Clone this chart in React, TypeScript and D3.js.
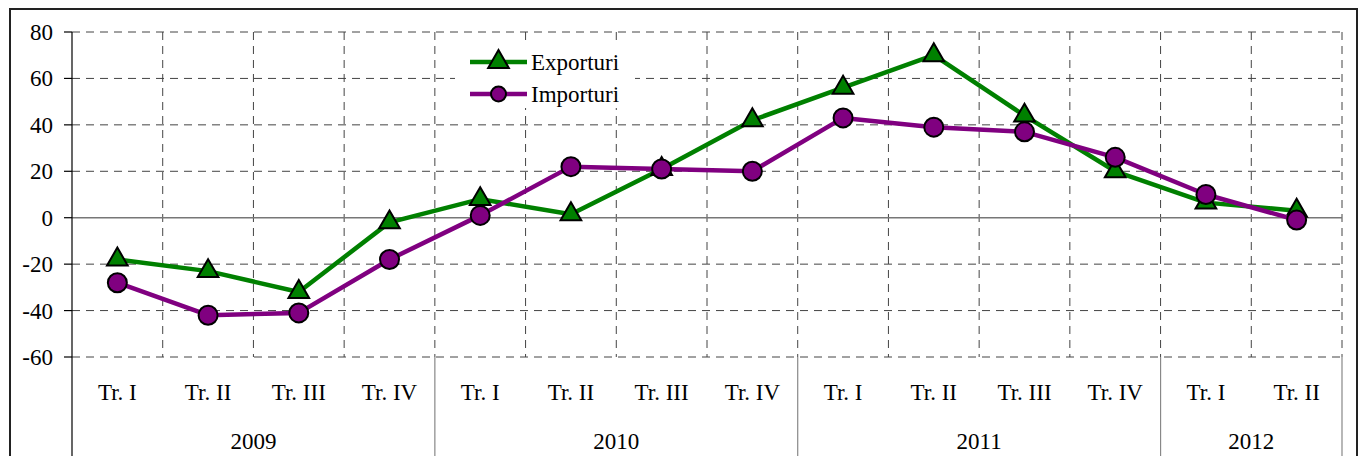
import * as React from 'react';
import * as d3 from 'd3';

const years = ['2009', '2010', '2011', '2012'];
const quarters = ['Tr. I', 'Tr. II', 'Tr. III', 'Tr. IV', 'Tr. I', 'Tr. II', 'Tr. III', 'Tr. IV', 'Tr. I', 'Tr. II', 'Tr. III', 'Tr. IV', 'Tr. I', 'Tr. II'];
const yearSpans = [4, 4, 4, 2];
const exporturi = [-18, -23, -32, -2, 8, 1.5, 21, 42, 56, 70, 44, 20, 6.5, 3];
const importuri = [-28, -42, -41, -18, 1, 22, 21, 20, 43, 39, 37, 26, 10, -1];
const yTicks = [80, 60, 40, 20, 0, -20, -40, -60];

const W = 1365;
const H = 456;
const left = 72;
const right = 1342;
const top = 32;
const bottom = 357;
const font = '"Liberation Serif", "Times New Roman", serif';
const fs = 23;

function translate(x: number, y: number) {
  return `translate(${x}, ${y})`;
}

export default function App() {
  const idx = quarters.map((_, i) => i);
  const x = d3.scaleBand<number>().domain(idx).range([left, right]).padding(0);
  const y = d3.scaleLinear().domain([-60, 80]).range([bottom, top]);
  const cx = (i: number) => x(i)! + x.bandwidth() / 2;

  const line = d3.line<number>().x((_, i) => cx(i)).y(d => y(d));
  const tri = d3.symbol().type(d3.symbolTriangle).size(185)()!;

  // year boundaries
  let acc = 0;
  const bounds = [0, ...yearSpans.map(s => (acc += s))];

  const gridX = d3.range(1, quarters.length + 1).map(i => left + i * x.bandwidth());

  return (
    <svg width={W} height={H} style={{ position: 'absolute', left: 0, top: 0 }}>
      <rect x={0} y={0} width={W} height={H} fill="#fff" />
      <rect x={10} y={9} width={1347} height={460} fill="none" stroke="#222" strokeWidth={2} />

      {/* horizontal grid */}
      {yTicks.filter(t => t !== 0).map(t => (
        <line key={t} x1={left} x2={right} y1={y(t)} y2={y(t)} stroke="#444" strokeDasharray="8,6" strokeWidth={1} />
      ))}
      {/* vertical grid */}
      {gridX.map((gx, i) => (
        <line key={i} x1={gx} x2={gx} y1={top} y2={bottom} stroke="#444" strokeDasharray="8,6" strokeWidth={1} />
      ))}
      <line x1={left} x2={right} y1={y(0)} y2={y(0)} stroke="#777" strokeWidth={1.5} />

      {/* y axis */}
      <line x1={left} x2={left} y1={top} y2={H} stroke="#000" strokeWidth={1.2} />
      {yTicks.map(t => (
        <g key={t} transform={translate(left, y(t))}>
          <line x1={-8} x2={0} stroke="#000" strokeWidth={1.2} />
          <text x={-19} dy="0.35em" textAnchor="end" fontFamily={font} fontSize={fs}>{t}</text>
        </g>
      ))}

      {/* year dividers */}
      {bounds.slice(1).map((b, i) => (
        <line key={i} x1={left + b * x.bandwidth()} x2={left + b * x.bandwidth()} y1={bottom} y2={H} stroke="#888" strokeWidth={1.2} />
      ))}

      {/* category labels */}
      {quarters.map((q, i) => (
        <text key={i} x={cx(i)} y={400} textAnchor="middle" fontFamily={font} fontSize={fs}>{q}</text>
      ))}
      {years.map((yr, i) => {
        const mid = left + ((bounds[i] + bounds[i + 1]) / 2) * x.bandwidth();
        return <text key={yr} x={mid} y={449} textAnchor="middle" fontFamily={font} fontSize={fs}>{yr}</text>;
      })}

      {/* legend */}
      <rect x={455} y={42} width={180} height={66} fill="#fff" />
      <g transform={translate(470, 62)}>
        <line x1={0} x2={57} stroke="#008000" strokeWidth={4.5} />
        <path d={tri} transform={translate(28.5, 0)} fill="#008000" stroke="#000" strokeWidth={2} />
        <text x={61} dy="0.35em" fontFamily={font} fontSize={fs}>Exporturi</text>
      </g>
      <g transform={translate(470, 94)}>
        <line x1={0} x2={57} stroke="#800080" strokeWidth={4.5} />
        <circle cx={28.5} r={7.5} fill="#800080" stroke="#000" strokeWidth={2} />
        <text x={61} dy="0.35em" fontFamily={font} fontSize={fs}>Importuri</text>
      </g>

      {/* series */}
      <path d={line(exporturi)!} fill="none" stroke="#008000" strokeWidth={4.5} strokeLinejoin="round" />
      {exporturi.map((v, i) => (
        <path key={i} d={tri} transform={translate(cx(i), y(v))} fill="#008000" stroke="#000" strokeWidth={2} />
      ))}
      <path d={line(importuri)!} fill="none" stroke="#800080" strokeWidth={4.5} strokeLinejoin="round" />
      {importuri.map((v, i) => (
        <circle key={i} cx={cx(i)} cy={y(v)} r={9.5} fill="#800080" stroke="#000" strokeWidth={2} />
      ))}
    </svg>
  );
}
